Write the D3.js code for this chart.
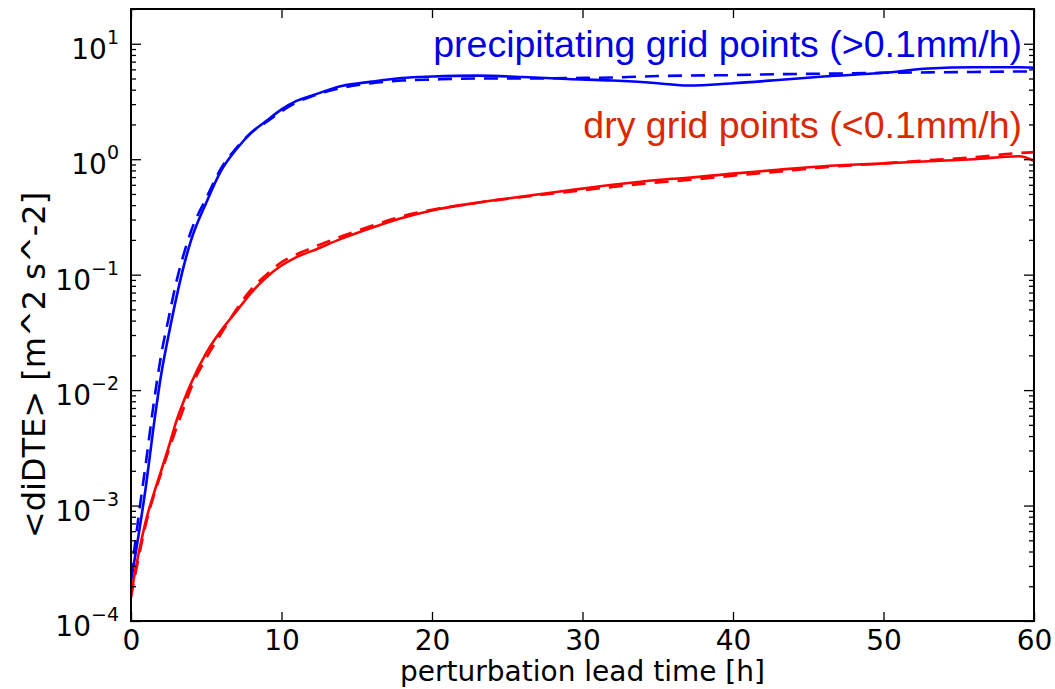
<!DOCTYPE html>
<html>
<head>
<meta charset="utf-8">
<script src="https://cdn.jsdelivr.net/npm/d3@7"></script>
<style>
  body { margin: 0; background: #fff; }
  svg { display: block; }
</style>
</head>
<body>
<svg id="chart" width="1055" height="689"></svg>
<script>
// lead time [h]
var leadTime = [0, 0.5, 1, 1.5, 2, 2.5, 3, 3.5, 4, 5, 6, 7, 8, 9, 10, 11, 12, 14, 16, 18, 20,
                23, 26, 29, 32, 35, 37, 40, 43, 46, 50, 53, 56, 59, 60];

// precipitating grid points, solid and dashed runs
var wetSolid = [2.2e-4, 5.5e-4, 1.5e-3, 4.8e-3, 0.0135, 0.03, 0.062, 0.118, 0.2, 0.42, 0.8, 1.22, 1.7, 2.15, 2.7, 3.2, 3.55, 4.3, 4.7, 5.05, 5.2,
                5.3, 5.15, 4.95, 4.8, 4.55, 4.35, 4.55, 4.85, 5.2, 5.6, 6.1, 6.25, 6.25, 6.2];
var wetDashed = [2.4e-4, 8e-4, 2.4e-3, 7.5e-3, 0.02, 0.042, 0.085, 0.15, 0.24, 0.46, 0.84, 1.25, 1.7, 2.1, 2.6, 3.1, 3.5, 4.15, 4.55, 4.8, 4.9,
                 5.0, 5.0, 5.05, 5.1, 5.25, 5.3, 5.35, 5.45, 5.5, 5.6, 5.65, 5.7, 5.75, 5.75];

// dry grid points, solid and dashed runs
var drySolid = [1.7e-4, 3.8e-4, 7.5e-4, 1.25e-3, 2.0e-3, 3.2e-3, 5.3e-3, 8e-3, 0.0115, 0.021, 0.033, 0.048, 0.07, 0.095, 0.12, 0.142, 0.16, 0.205, 0.255, 0.31, 0.36,
                0.42, 0.475, 0.535, 0.6, 0.66, 0.69, 0.75, 0.81, 0.87, 0.92, 0.96, 1.0, 1.06, 0.97];
var dryDashed = [1.6e-4, 3.5e-4, 7e-4, 1.2e-3, 1.9e-3, 3.0e-3, 4.6e-3, 7e-3, 0.0105, 0.019, 0.031, 0.05, 0.075, 0.1, 0.128, 0.15, 0.17, 0.215, 0.265, 0.32, 0.365,
                 0.42, 0.47, 0.52, 0.575, 0.63, 0.66, 0.72, 0.78, 0.85, 0.92, 0.98, 1.04, 1.13, 1.15];

var xTicks = [0, 10, 20, 30, 40, 50, 60];
var yExponents = [-4, -3, -2, -1, 0, 1];

var series = [
    { values: wetSolid, color: "#0000ff", dash: null },
    { values: wetDashed, color: "#0000ff", dash: "14,9" },
    { values: drySolid, color: "#ff0000", dash: null },
    { values: dryDashed, color: "#ff0000", dash: "14,9" }
];

var labels = [
    { text: "precipitating grid points (>0.1mm/h)", color: "#0000e6", y: 57 },
    { text: "dry grid points (<0.1mm/h)", color: "#dc2800", y: 138 }
];

// plot frame in pixels (note: "top" is reserved on window)
var frameL = 131, frameR = 1034, frameT = 9, frameB = 621;

var svg = d3.select("#chart");

var x = d3.scaleLinear().domain([0, 60]).range([frameL, frameR]);
var y = d3.scaleLog().domain([1e-4, 20]).range([frameB, frameT]);

// minor log ticks 2..9 of each decade
var minorTicks = [];
yExponents.forEach(function (e) {
    for (var k = 2; k <= 9; k++) {
        var v = k * Math.pow(10, e);
        if (v <= 20) { minorTicks.push(v); }
    }
});
var majorTicks = yExponents.map(function (e) { return Math.pow(10, e); });

// clip the curves to the frame
svg.append("clipPath").attr("id", "plotclip")
    .append("rect")
    .attr("x", frameL).attr("y", frameT)
    .attr("width", frameR - frameL).attr("height", frameB - frameT);

var line = d3.line()
    .x(function (d) { return x(d[0]); })
    .y(function (d) { return y(d[1]); })
    .curve(d3.curveMonotoneX);

var curves = svg.append("g").attr("clip-path", "url(#plotclip)");
series.forEach(function (s) {
    curves.append("path")
        .datum(d3.zip(leadTime, s.values))
        .attr("d", line)
        .attr("fill", "none")
        .attr("stroke", s.color)
        .attr("stroke-width", 2.6)
        .attr("stroke-dasharray", s.dash);
});

// axes, ticks pointing inwards
function styleAxis(g) {
    g.select(".domain").remove();
    g.selectAll(".tick line").attr("stroke", "#000").attr("stroke-width", 1.3);
}

svg.append("g").attr("transform", "translate(0," + frameB + ")")
    .call(d3.axisBottom(x).tickValues(xTicks).tickSize(-9).tickPadding(9).tickFormat(d3.format("d")))
    .call(styleAxis)
    .call(function (g) {
        g.selectAll(".tick text")
            .attr("font-family", "DejaVu Sans, sans-serif")
            .attr("font-size", 28).attr("fill", "#000").attr("dy", "0.71em");
    });
svg.append("g").attr("transform", "translate(0," + frameT + ")")
    .call(d3.axisTop(x).tickValues(xTicks).tickSize(-9).tickFormat(""))
    .call(styleAxis);

svg.append("g").attr("transform", "translate(" + frameL + ",0)")
    .call(d3.axisLeft(y).tickValues(majorTicks).tickSize(-10).tickFormat(""))
    .call(styleAxis);
svg.append("g").attr("transform", "translate(" + frameL + ",0)")
    .call(d3.axisLeft(y).tickValues(minorTicks).tickSize(-5).tickFormat(""))
    .call(styleAxis);
svg.append("g").attr("transform", "translate(" + frameR + ",0)")
    .call(d3.axisRight(y).tickValues(majorTicks).tickSize(-10).tickFormat(""))
    .call(styleAxis);
svg.append("g").attr("transform", "translate(" + frameR + ",0)")
    .call(d3.axisRight(y).tickValues(minorTicks).tickSize(-5).tickFormat(""))
    .call(styleAxis);

// y tick labels as 10^n
yExponents.forEach(function (e) {
    var t = svg.append("text")
        .attr("x", 119)
        .attr("y", y(Math.pow(10, e)) + 15)
        .attr("text-anchor", "end")
        .attr("font-family", "DejaVu Sans, sans-serif")
        .attr("fill", "#000");
    t.append("tspan").attr("font-size", 28).text("10");
    t.append("tspan").attr("font-size", 19).attr("dy", -15)
        .text(e < 0 ? "\u2212" + (-e) : String(e));
});

// frame
svg.append("rect")
    .attr("x", frameL).attr("y", frameT)
    .attr("width", frameR - frameL).attr("height", frameB - frameT)
    .attr("fill", "none").attr("stroke", "#000").attr("stroke-width", 2);

// axis titles
svg.append("text")
    .attr("x", (frameL + frameR) / 2).attr("y", 681)
    .attr("text-anchor", "middle")
    .attr("font-family", "DejaVu Sans, sans-serif")
    .attr("font-size", 28)
    .text("perturbation lead time [h]");

svg.append("text")
    .attr("transform", "translate(45,365) rotate(-90)")
    .attr("text-anchor", "middle")
    .attr("font-family", "DejaVu Sans, sans-serif")
    .attr("font-size", 32)
    .text("<diDTE> [m^2 s^-2]");

// curve annotations
labels.forEach(function (l) {
    svg.append("text")
        .attr("x", 1022).attr("y", l.y)
        .attr("text-anchor", "end")
        .attr("font-family", "Liberation Sans, Arial, sans-serif")
        .attr("font-size", 37.5)
        .attr("fill", l.color)
        .text(l.text);
});
</script>
</body>
</html>
